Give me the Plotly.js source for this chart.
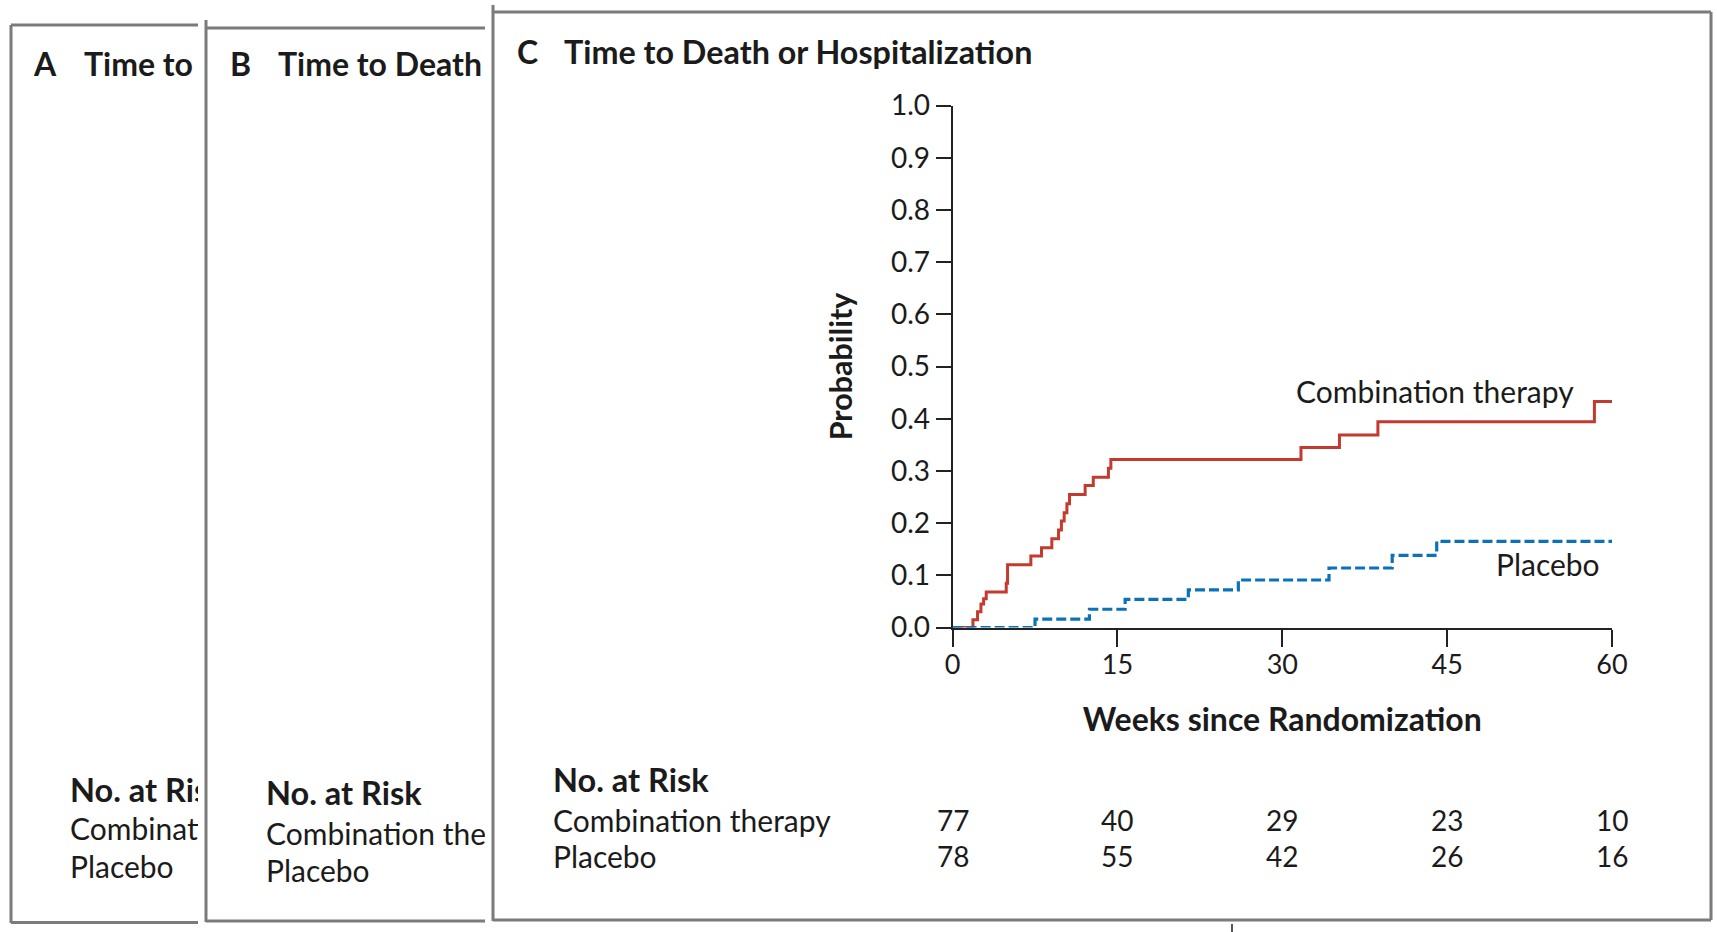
<!DOCTYPE html>
<html>
<head>
<meta charset="utf-8">
<script src="https://cdn.plot.ly/plotly-3.0.1.min.js"></script>
<style>
  html, body { margin: 0; padding: 0; background: #ffffff; }
  #chart { width: 1717px; height: 932px; }
</style>
</head>
<body>
<div id="chart"></div>
<script>
// ---------------- Data ----------------
const comboWeeks = [0, 1.85, 2.27, 2.58, 2.82, 3.06, 4.88, 5.0, 7.12, 8.09, 9.03, 9.64, 9.9, 10.15, 10.4, 10.64, 12.06, 12.8, 14.18, 14.4, 31.7, 35.2, 38.7, 58.4, 60];
const comboProb  = [0, 0.015, 0.03, 0.045, 0.055, 0.068, 0.085, 0.12, 0.137, 0.153, 0.17, 0.187, 0.204, 0.22, 0.237, 0.255, 0.272, 0.288, 0.305, 0.322, 0.345, 0.369, 0.394, 0.433, 0.433];

const placeboWeeks = [0, 7.5, 12.45, 15.7, 21.45, 26.0, 34.25, 40.0, 44.05, 60];
const placeboProb  = [0, 0.016, 0.035, 0.054, 0.072, 0.091, 0.114, 0.138, 0.165, 0.165];

const xTickVals = [0, 15, 30, 45, 60];
const yTickVals = [0, 0.1, 0.2, 0.3, 0.4, 0.5, 0.6, 0.7, 0.8, 0.9, 1.0];

const riskGroups = ["Combination therapy", "Placebo"];
const riskWeeks = [0, 15, 30, 45, 60];
const riskCombo = [77, 40, 29, 23, 10];
const riskPlacebo = [78, 55, 42, 26, 16];

const panelTitles = ["Time to", "Time to Death", "Time to Death or Hospitalization"];
const panelLetters = ["A", "B", "C"];
const riskHeader = "No. at Risk";
const xTitle = "Weeks since Randomization";
const yTitle = "Probability";

// ---------------- Layout helpers ----------------
const W = 1717, H = 932;
const X = p => p / W;
const Y = p => 1 - p / H;
const FONT = "Lato, 'Open Sans', 'DejaVu Sans', sans-serif";
const TXT = "#1b1b1b";
const RED = "#c23b2e";
const BLUE = "#0b72b9";
const BORDER = "#7b7b7b";

const traces = [
  {
    x: comboWeeks, y: comboProb, type: "scatter", mode: "lines",
    line: { shape: "hv", color: RED, width: 3 },
    cliponaxis: false, hoverinfo: "skip", showlegend: false, xaxis: "x", yaxis: "y"
  },
  {
    x: placeboWeeks, y: placeboProb, type: "scatter", mode: "lines",
    line: { shape: "hv", color: BLUE, width: 3.2, dash: "10px,4px" },
    cliponaxis: false, hoverinfo: "skip", showlegend: false, xaxis: "x", yaxis: "y"
  }
];

// Clipped text for panels A and B (narrow panels partly hidden behind the next one)
function panelText(letterIdx, xa, ya, letterX, titleX, titleY, riskX, riskY, cut) {
  traces.push({
    type: "scatter", mode: "text", xaxis: xa, yaxis: ya,
    x: [letterX, titleX, riskX, riskX, riskX],
    y: [titleY, titleY, riskY[0], riskY[1], riskY[2]],
    text: ["<b>" + panelLetters[letterIdx] + "</b>", "<b>" + panelTitles[letterIdx] + "</b>",
           "<b>" + riskHeader.slice(0, cut[0]) + "</b>", riskGroups[0].slice(0, cut[1]), riskGroups[1]],
    textposition: "middle right",
    textfont: { family: FONT, size: [32, 32, 32.5, 30, 30], color: TXT },
    cliponaxis: true, hoverinfo: "skip", showlegend: false
  });
}
panelText(0, "x2", "y2", 34, 84, 68, 70, [794, 832, 870], [10, 9]);
panelText(1, "x3", "y3", 230, 278, 68, 266, [797, 837, 874], [11, 16]);

const annotations = [];
// Panel C title
annotations.push({ xref: "paper", yref: "paper", x: X(515), y: Y(51), xanchor: "left", yanchor: "middle",
  text: "<b>" + panelLetters[2] + "</b>", showarrow: false, font: { family: FONT, size: 32, color: TXT } });
annotations.push({ xref: "paper", yref: "paper", x: X(562), y: Y(51), xanchor: "left", yanchor: "middle",
  text: "<b>" + panelTitles[2] + "</b>", showarrow: false, font: { family: FONT, size: 32.3, color: TXT } });
// Curve labels
annotations.push({ xref: "x", yref: "y", x: 56.7, y: 0.453, xanchor: "right", yanchor: "middle",
  text: riskGroups[0], showarrow: false, font: { family: FONT, size: 30, color: TXT } });
annotations.push({ xref: "x", yref: "y", x: 59.1, y: 0.122, xanchor: "right", yanchor: "middle",
  text: riskGroups[1], showarrow: false, font: { family: FONT, size: 30, color: TXT } });
// Risk table
annotations.push({ xref: "paper", yref: "paper", x: X(551), y: Y(779), xanchor: "left", yanchor: "middle",
  text: "<b>" + riskHeader + "</b>", showarrow: false, font: { family: FONT, size: 32.5, color: TXT } });
annotations.push({ xref: "paper", yref: "paper", x: X(551), y: Y(820), xanchor: "left", yanchor: "middle",
  text: riskGroups[0], showarrow: false, font: { family: FONT, size: 30, color: TXT } });
annotations.push({ xref: "paper", yref: "paper", x: X(551), y: Y(856), xanchor: "left", yanchor: "middle",
  text: riskGroups[1], showarrow: false, font: { family: FONT, size: 30, color: TXT } });
riskWeeks.forEach((w, i) => {
  annotations.push({ xref: "x", yref: "paper", x: w, y: Y(820), xanchor: "center", yanchor: "middle",
    text: String(riskCombo[i]), showarrow: false, font: { family: FONT, size: 28, color: TXT } });
  annotations.push({ xref: "x", yref: "paper", x: w, y: Y(856), xanchor: "center", yanchor: "middle",
    text: String(riskPlacebo[i]), showarrow: false, font: { family: FONT, size: 28, color: TXT } });
});

function line(x0, y0, x1, y1) {
  return { type: "line", xref: "paper", yref: "paper", x0: X(x0), y0: Y(y0), x1: X(x1), y1: Y(y1),
           line: { color: BORDER, width: 3 }, layer: "below" };
}
const shapes = [
  // Panel A
  line(11, 25, 11, 923), line(11, 25, 198, 25), line(11, 922.5, 198, 922.5),
  // Panel B
  line(206, 20, 206, 922), line(206, 28, 485, 28), line(206, 921, 485, 921),
  // Panel C
  line(493, 5, 493, 921), line(493, 12, 1711, 12), line(1711, 12, 1711, 920), line(493, 920, 1711, 920),
  // small mark at bottom
  { type: "line", xref: "paper", yref: "paper", x0: X(1232), y0: Y(924), x1: X(1232), y1: Y(932),
    line: { color: "#555", width: 2 }, layer: "below" }
];

const hiddenAxis = (dom, rng) => ({ domain: dom, range: rng, visible: false, fixedrange: true });

const layout = {
  width: W, height: H, autosize: false,
  margin: { l: 0, r: 0, t: 0, b: 0, pad: 0 },
  paper_bgcolor: "#ffffff", plot_bgcolor: "rgba(0,0,0,0)",
  showlegend: false,
  font: { family: FONT, color: TXT },
  xaxis: {
    domain: [X(952.6), X(1612)], range: [0, 60], anchor: "y",
    tickmode: "array", tickvals: xTickVals, ticktext: xTickVals.map(String),
    ticks: "outside", ticklen: 17, tickwidth: 2, tickcolor: "#222",
    ticklabelstandoff: -5,
    showline: true, linewidth: 2, linecolor: "#222", layer: "below traces",
    showgrid: false, zeroline: false, fixedrange: true,
    tickfont: { family: FONT, size: 27, color: TXT },
    title: { text: "<b>" + xTitle + "</b>", font: { family: FONT, size: 32, color: TXT }, standoff: 30 }
  },
  yaxis: {
    domain: [Y(627.5), Y(105.5)], range: [0, 1], anchor: "x",
    tickmode: "array", tickvals: yTickVals, ticktext: yTickVals.map(v => v.toFixed(1)),
    ticks: "outside", ticklen: 15, tickwidth: 2, tickcolor: "#222",
    showline: true, linewidth: 2, linecolor: "#222", layer: "below traces",
    showgrid: false, zeroline: false, fixedrange: true,
    tickfont: { family: FONT, size: 28, color: TXT },
    title: { text: "<b>" + yTitle + "</b>", font: { family: FONT, size: 30.5, color: TXT }, standoff: 29 }
  },
  xaxis2: Object.assign(hiddenAxis([X(13), X(198)], [13, 198]), { anchor: "y2" }),
  yaxis2: Object.assign(hiddenAxis([0, 1], [H, 0]), { anchor: "x2" }),
  xaxis3: Object.assign(hiddenAxis([X(208), X(485)], [208, 485]), { anchor: "y3" }),
  yaxis3: Object.assign(hiddenAxis([0, 1], [H, 0]), { anchor: "x3" }),
  annotations: annotations,
  shapes: shapes
};

Plotly.newPlot("chart", traces, layout, { displayModeBar: false, staticPlot: true });
</script>
</body>
</html>
